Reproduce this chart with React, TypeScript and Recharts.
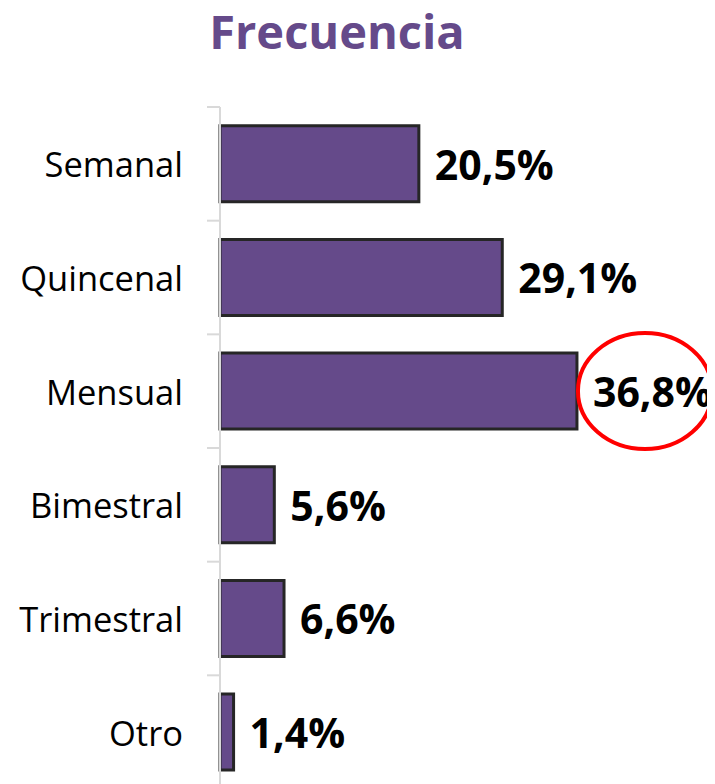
import React from 'react';
import { BarChart, Bar, XAxis, YAxis, LabelList } from 'recharts';

const categories = ['Semanal', 'Quincenal', 'Mensual', 'Bimestral', 'Trimestral', 'Otro'];
const values = [20.5, 29.1, 36.8, 5.6, 6.6, 1.4];
const highlighted = 'Mensual';
const title = 'Frecuencia';

const data = categories.map((name, i) => ({ name, value: values[i] }));

const W = 707;
const H = 800;
const MARGIN = { top: 99, right: 10, bottom: 19, left: 0 };
const AXIS_W = 212;
const BAND = (H - MARGIN.top - MARGIN.bottom) / categories.length;
const FONT = '"Open Sans", sans-serif';
const PURPLE = '#654a8a';

const fmt = (v: number) => v.toFixed(1).replace('.', ',') + '%';

const CategoryTick = (props: any) => {
  const { x, y, payload, index } = props;
  const ax = AXIS_W;
  const lines = [
    <line key="t" x1={ax - 13} x2={ax} y1={y - BAND / 2} y2={y - BAND / 2} stroke="#d9d9d9" strokeWidth={2} />,
  ];
  if (index === categories.length - 1) {
    lines.push(
      <line key="b" x1={ax - 13} x2={ax} y1={y + BAND / 2} y2={y + BAND / 2} stroke="#d9d9d9" strokeWidth={2} />
    );
  }
  return (
    <g>
      {lines}
      <text x={x} y={y} textAnchor="end" dominantBaseline="central" fontSize={34.5} fontFamily={FONT} fill="#000">
        {payload.value}
      </text>
    </g>
  );
};

const ValueLabel = (props: any) => {
  const { x, y, width, height, value, index } = props;
  const lx = x + width + 16;
  const cy = y + height / 2;
  const isHi = categories[index] === highlighted;
  return (
    <g>
      {isHi && (
        <ellipse cx={lx + 52} cy={cy} rx={67} ry={58} fill="none" stroke="#ff0000" strokeWidth={4} />
      )}
      <text x={lx} y={cy} textAnchor="start" dominantBaseline="central" fontSize={41} fontWeight={700} fontFamily={FONT} fill="#000">
        {fmt(value)}
      </text>
    </g>
  );
};

export default function App() {
  return (
    <div style={{ position: 'relative', width: W, height: H }}>
      <BarChart width={W} height={H} data={data} layout="vertical" margin={MARGIN} barCategoryGap="16.5%">
        <XAxis type="number" domain={[0, 50]} hide />
        <YAxis
          type="category"
          dataKey="name"
          width={AXIS_W}
          axisLine={{ stroke: '#d9d9d9', strokeWidth: 2 }}
          tickLine={false}
          tickSize={13}
          tickMargin={24}
          tick={<CategoryTick />}
          interval={0}
        />
        <Bar dataKey="value" fill={PURPLE} stroke="#262626" strokeWidth={3} isAnimationActive={false}>
          <LabelList dataKey="value" content={<ValueLabel />} />
        </Bar>
      </BarChart>
      <svg width={W} height={70} style={{ position: 'absolute', left: 0, top: 0, pointerEvents: 'none' }}>
        <text x={329} y={41} textAnchor="middle" fontSize={47} fontWeight={700} fontFamily={FONT} fill={PURPLE}>
          {title}
        </text>
      </svg>
    </div>
  );
}
